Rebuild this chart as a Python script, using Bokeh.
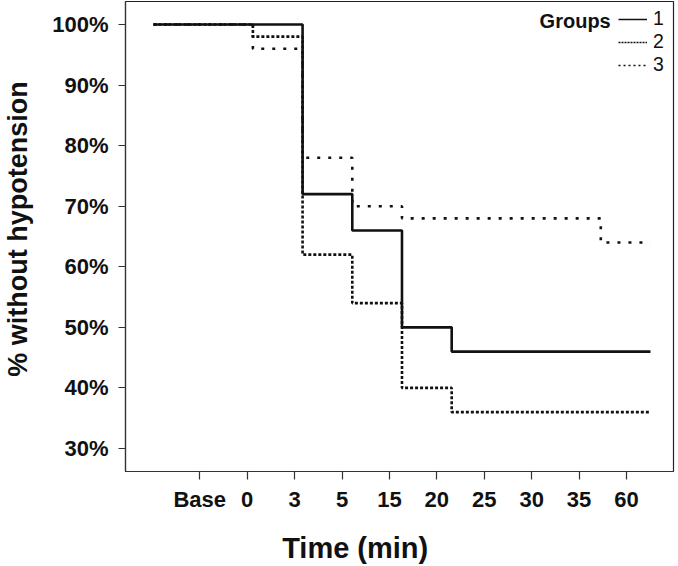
from bokeh.plotting import figure
from bokeh.models import (Range1d, LinearAxis, FixedTicker, Legend, LegendItem,
                          Label)
from bokeh.embed import file_html
from bokeh.resources import INLINE

# ---------------- data ----------------
time_labels = ["Base", "0", "3", "5", "15", "20", "25", "30", "35", "60"]
# % without hypotension: a leading origin point, then one value per time label
group1 = [100, 100, 100, 72, 66, 50, 46, 46, 46, 46, 46]
group2 = [100, 100, 98, 62, 54, 40, 36, 36, 36, 36, 36]
group3 = [100, 100, 96, 78, 70, 68, 68, 68, 68, 64, 64]
group_names = ["1", "2", "3"]
y_ticks = [30, 40, 50, 60, 70, 80, 90, 100]
y_tick_labels = ["30%", "40%", "50%", "60%", "70%", "80%", "90%", "100%"]
x_title = "Time (min)"
y_title = "% without hypotension"

FONT = "Liberation Sans"
INK = "#111111"
NAN = float("nan")
NB = "\u00a0"  # non-breaking spaces nudge the axis titles off-centre

x_pos = list(range(-1, len(time_labels)))

p = figure(width=678, height=566, output_backend="svg", toolbar_location=None,
           x_range=Range1d(-1.563, 9.463), y_range=Range1d(26.2, 103.8),
           x_axis_location=None,
           min_border_left=125, min_border_right=5, min_border_top=1,
           min_border_bottom=95)
p.grid.grid_line_color = None
p.outline_line_color = "#222222"
p.outline_line_width = 1.2
p.background_fill_color = "white"
p.border_fill_color = "white"

# category axis drawn on its own range
p.extra_x_ranges = {"ticks": Range1d(-1.567, 9.992)}
xaxis = LinearAxis(x_range_name="ticks",
                   ticker=FixedTicker(ticks=list(range(len(time_labels)))),
                   major_label_overrides={i: lab for i, lab in enumerate(time_labels)})
p.add_layout(xaxis, "below")

ya = p.yaxis[0]
for ax in (xaxis, ya):
    ax.axis_line_color = "#333333"
    ax.axis_line_width = 1.2
    ax.major_tick_line_color = "#333333"
    ax.major_tick_line_width = 1.2
    ax.major_tick_in = 0
    ax.minor_tick_line_color = None
    ax.major_label_text_font = FONT
    ax.major_label_text_font_size = "22px"
    ax.major_label_text_font_style = "bold"
    ax.major_label_text_color = INK
    ax.axis_label_text_font = FONT
    ax.axis_label_text_font_style = "bold"
    ax.axis_label_text_color = INK

xaxis.major_tick_out = 8
xaxis.major_label_standoff = 7
xaxis.axis_label = x_title + NB * 11
xaxis.axis_label_text_font_size = "29px"
xaxis.axis_label_standoff = 17

ya.ticker = FixedTicker(ticks=y_ticks)
ya.major_label_overrides = dict(zip(y_ticks, y_tick_labels))
ya.major_tick_out = 7
ya.major_label_standoff = 10
ya.axis_label = NB * 2 + y_title
ya.axis_label_text_font_size = "27px"
ya.axis_label_standoff = 16

# ---------------- curves ----------------
p.step(x_pos, group2, mode="after", line_width=2.6, line_color=INK,
       line_dash="3 2")
p.step(x_pos, group3, mode="after", line_width=2.6, line_color=INK,
       line_dash="3 8")
p.step(x_pos, group1, mode="after", line_width=2.6, line_color=INK)

# legend swatches (thin, as in the reference key); no visible data
l1 = p.line([NAN], [NAN], line_width=1.5, line_color=INK)
l2 = p.line([NAN], [NAN], line_width=1.5, line_color=INK, line_dash="2 1")
l3 = p.line([NAN], [NAN], line_width=1.5, line_color=INK, line_dash="2 3")

legend = Legend(items=[LegendItem(label=group_names[0], renderers=[l1]),
                       LegendItem(label=group_names[1], renderers=[l2]),
                       LegendItem(label=group_names[2], renderers=[l3])],
                location="top_right", margin=6, padding=8, spacing=0,
                glyph_width=29, glyph_height=22, label_height=22,
                label_width=14, label_standoff=6,
                label_text_font=FONT, label_text_font_size="19.5px",
                label_text_color=INK,
                border_line_color=None, background_fill_alpha=0)
p.add_layout(legend)

p.add_layout(Label(x=8.2, y=100.5, text="Groups", text_align="right",
                   text_baseline="middle", text_font=FONT,
                   text_font_size="20px", text_font_style="bold",
                   text_color=INK))

open("out.html", "w").write(file_html(p, INLINE))
